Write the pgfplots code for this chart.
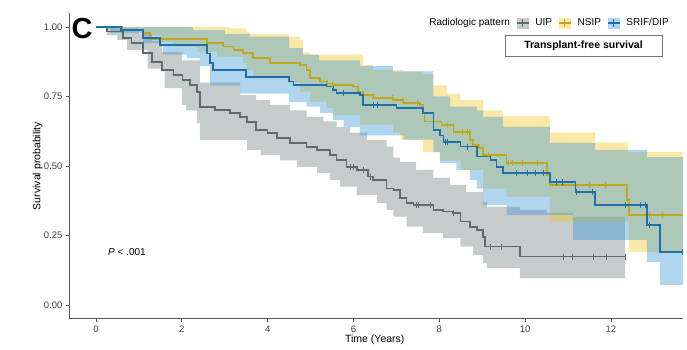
\documentclass[border=0pt]{standalone}
\usepackage{fontspec}
\setmainfont{Liberation Sans}
\usepackage{pgfplots}
\pgfplotsset{compat=1.18}
\usepgfplotslibrary{fillbetween}
\definecolor{uipL}{RGB}{95,106,110}
\definecolor{uipF}{RGB}{112,125,128}
\definecolor{nsipL}{RGB}{192,166,28}
\definecolor{nsipF}{RGB}{245,198,33}
\definecolor{srifL}{RGB}{30,112,166}
\definecolor{srifF}{RGB}{58,150,213}
\definecolor{axgray}{RGB}{85,85,85}
\begin{document}
\begin{tikzpicture}
\begin{axis}[
  at={(0,0)}, anchor=south west,
  scale only axis, width=614pt, height=306pt,
  xmin=-0.63, xmax=13.68, ymin=-0.05, ymax=1.05,
  axis x line*=bottom, axis y line*=left,
  axis line style={-, axgray, line width=1pt},
  tick style={axgray, line width=0.8pt},
  tick align=outside, major tick length=3pt,
  xtick={0,2,4,6,8,10,12},
  ytick={0,0.25,0.5,0.75,1},
  yticklabel style={/pgf/number format/.cd, fixed, fixed zerofill, precision=2},
  /pgf/number format/assume math mode=true,
  ticklabel style={font=\fontsize{9.5}{11}\selectfont, text=black!75},
  xlabel={Time (Years)}, ylabel={Survival probability},
  xlabel style={at={(axis description cs:0.498,-0.069)}, anchor=center, font=\fontsize{10.5}{12}\selectfont},
  ylabel style={at={(axis description cs:-0.051,0.5)}, anchor=center, font=\fontsize{10.5}{12}\selectfont},
  legend columns=-1,
  legend style={draw=none, fill=none, at={(0.977,0.967)}, anchor=east,
    font=\fontsize{10}{12}\selectfont, inner sep=0pt,
    nodes={inner sep=0pt},
    /tikz/every even column/.append style={column sep=6pt},
    /tikz/every odd column/.append style={column sep=6pt},
    /tikz/column 2/.append style={column sep=9pt}},
]
% ---------------- UIP band ----------------
\addplot[const plot, draw=none, name path=uipU, forget plot] coordinates {
(0,1.000) (0.5,0.995) (1.0,0.975) (1.3,0.95) (1.54,0.91) (2.0,0.88) (2.42,0.80)
(3.36,0.755) (3.73,0.737) (4.05,0.72) (4.52,0.70) (4.91,0.677) (5.30,0.66)
(5.61,0.64) (5.92,0.62) (6.31,0.593) (6.77,0.57) (6.93,0.53) (7.09,0.514)
(7.46,0.486) (7.86,0.457) (8.25,0.432) (8.62,0.406) (9.02,0.370) (9.11,0.353)
(9.88,0.342) (10.50,0.331) (11.12,0.317) (12.33,0.317)};
\addplot[const plot, draw=none, name path=uipD, forget plot] coordinates {
(0,1.000) (0.25,0.97) (0.5,0.953) (0.72,0.917) (1.2,0.85) (1.6,0.78) (2.0,0.72)
(2.1,0.70) (2.35,0.655) (2.42,0.594) (3.52,0.558) (3.84,0.54) (4.29,0.52)
(4.68,0.497) (5.15,0.475) (5.45,0.45) (5.69,0.426) (6.08,0.396) (6.55,0.367)
(6.77,0.342) (6.93,0.318) (7.24,0.282) (7.62,0.259) (8.09,0.241) (8.49,0.21)
(8.79,0.18) (9.02,0.151) (9.11,0.133) (9.88,0.097) (12.33,0.097)};
\addplot[fill=uipF, fill opacity=0.4, draw=none, forget plot] fill between[of=uipU and uipD];
% ---------------- NSIP band ----------------
\addplot[const plot, draw=none, name path=nsU, forget plot] coordinates {
(0,1.000) (3.12,0.995) (3.50,0.980) (3.59,0.975) (4.50,0.964) (4.75,0.953)
(4.82,0.908) (5.00,0.900) (6.22,0.863) (6.46,0.845) (7.16,0.840) (7.62,0.830)
(7.86,0.790) (8.18,0.760) (8.49,0.737) (9.02,0.700) (9.49,0.680) (10.58,0.620)
(11.63,0.585) (12.40,0.550) (13.68,0.550)};
\addplot[const plot, draw=none, name path=nsD, forget plot] coordinates {
(0,1.000) (0.60,0.985) (1.03,0.970) (1.49,0.947) (1.79,0.929) (2.35,0.911)
(2.82,0.893) (3.43,0.870) (3.52,0.845) (3.66,0.817) (4.50,0.800) (4.75,0.767)
(4.99,0.731) (5.38,0.709) (5.52,0.683) (6.15,0.647) (6.92,0.620) (7.10,0.594)
(7.62,0.550) (8.00,0.520) (8.50,0.486) (9.02,0.420) (9.57,0.390) (10.58,0.300)
(12.42,0.190) (13.68,0.190)};
\addplot[fill=nsipF, fill opacity=0.4, draw=none, forget plot] fill between[of=nsU and nsD];
% ---------------- SRIF/DIP band ----------------
\addplot[const plot, draw=none, name path=srU, forget plot] coordinates {
(0,1.000) (2.26,0.988) (3.00,0.975) (3.59,0.965) (4.50,0.924)
(4.82,0.900) (5.20,0.880) (6.15,0.860) (6.92,0.840) (7.86,0.750) (8.25,0.713)
(8.88,0.700) (9.02,0.677) (9.49,0.641) (10.58,0.583) (11.63,0.558) (12.84,0.532)
(13.68,0.532)};
\addplot[const plot, draw=none, name path=srD, forget plot] coordinates {
(0,1.000) (0.33,0.978) (1.10,0.942) (1.56,0.900) (2.12,0.888) (2.42,0.860)
(2.66,0.790) (3.36,0.760) (4.50,0.730) (4.91,0.713) (5.22,0.690) (5.52,0.665)
(5.77,0.640) (6.15,0.610) (7.16,0.595) (7.86,0.550) (8.02,0.510) (8.40,0.486)
(8.72,0.450) (8.88,0.420) (9.02,0.360) (9.57,0.324) (11.12,0.234) (12.84,0.155)
(13.14,0.072) (13.68,0.072)};
\addplot[fill=srifF, fill opacity=0.4, draw=none, forget plot] fill between[of=srU and srD];
% ---------------- UIP line ----------------
\addplot[const plot, uipL, line width=1.5pt, forget plot] coordinates {
(0,1.000) (0.25,0.983) (0.63,0.960) (0.83,0.942) (1.10,0.906) (1.31,0.874)
(1.54,0.845) (1.80,0.827) (2.01,0.809) (2.19,0.791) (2.35,0.766) (2.42,0.712)
(2.77,0.701) (3.12,0.690) (3.36,0.676) (3.52,0.658) (3.73,0.630) (4.00,0.619)
(4.22,0.600) (4.52,0.583) (4.91,0.569) (5.15,0.558) (5.45,0.540) (5.61,0.522)
(5.84,0.497) (6.08,0.486) (6.34,0.462) (6.46,0.450) (6.77,0.420) (6.93,0.414)
(7.09,0.385) (7.24,0.367) (7.40,0.360) (7.86,0.342) (8.09,0.336) (8.32,0.331)
(8.49,0.300) (8.72,0.280) (8.88,0.270) (9.02,0.245) (9.07,0.210) (9.88,0.174)
(12.33,0.174)};
\addplot[only marks, mark=|, mark size=3pt, uipL, mark options={line width=0.8pt}, forget plot] coordinates {
(5.92,0.497) (6.00,0.497) (6.22,0.486) (6.40,0.462) (7.47,0.360) (7.52,0.360)
(7.80,0.360) (8.32,0.331) (9.18,0.210) (9.45,0.210) (10.9,0.174) (11.1,0.174)
(11.6,0.174) (11.9,0.174) (12.33,0.174)};
% ---------------- NSIP line ----------------
\addplot[const plot, nsipL, line width=1.5pt, forget plot] coordinates {
(0,1.000) (0.60,0.990) (1.10,0.978) (1.26,0.957) (2.59,0.942) (2.96,0.929)
(3.20,0.917) (3.43,0.906) (3.66,0.888) (4.05,0.870) (4.75,0.863) (4.91,0.845)
(4.99,0.817) (5.22,0.803) (5.38,0.797) (5.52,0.791) (5.99,0.785) (6.11,0.767)
(6.22,0.755) (6.46,0.745) (6.92,0.737) (7.16,0.727) (7.55,0.719) (7.62,0.690)
(7.65,0.660) (8.05,0.647) (8.33,0.623) (8.72,0.594) (8.79,0.576) (8.93,0.565)
(9.02,0.540) (9.57,0.511) (10.51,0.468) (10.58,0.432) (12.37,0.378) (12.42,0.324)
(13.68,0.324)};
\addplot[only marks, mark=|, mark size=3pt, nsipL, mark options={line width=0.8pt}, forget plot] coordinates {
(5.40,0.797) (5.50,0.791) (6.90,0.745) (7.13,0.737) (7.50,0.727) (8.20,0.647)
(8.55,0.623) (8.65,0.623) (9.14,0.540) (9.60,0.511) (9.70,0.511) (9.93,0.511)
(10.28,0.511) (11.50,0.432) (11.87,0.432) (12.90,0.324) (13.20,0.324)};
% ---------------- SRIF/DIP line ----------------
\addplot[const plot, srifL, line width=1.5pt, forget plot] coordinates {
(0,1.000) (0.58,0.989) (1.10,0.960) (1.49,0.935) (2.59,0.905) (2.66,0.870)
(2.73,0.845) (3.50,0.820) (4.50,0.803) (4.60,0.791) (5.38,0.785) (5.52,0.773)
(5.60,0.763) (6.15,0.755) (6.22,0.720) (7.00,0.709) (7.62,0.690) (7.86,0.630)
(8.02,0.610) (8.10,0.587) (8.49,0.570) (8.88,0.534) (9.19,0.522) (9.33,0.497)
(9.49,0.475) (10.58,0.443) (11.17,0.407) (11.63,0.360) (12.84,0.288) (13.14,0.190)
(13.68,0.190)};
\addplot[only marks, mark=|, mark size=3pt, srifL, mark options={line width=0.8pt}, forget plot] coordinates {
(5.76,0.763) (6.46,0.720) (6.55,0.720) (8.15,0.587) (8.20,0.587) (8.65,0.570)
(9.80,0.475) (10.05,0.475) (10.23,0.475) (10.42,0.475) (10.74,0.443) (10.88,0.443)
(11.20,0.407) (11.56,0.407) (12.33,0.360) (12.68,0.360) (12.80,0.360) (12.90,0.288)
(13.66,0.190)};
% ---------------- legend ----------------
\addlegendimage{empty legend}
\addlegendentry{Radiologic pattern}
\addlegendimage{legend image code/.code={
  \path[fill=uipF, fill opacity=0.4, draw=none] (0pt,-5.5pt) rectangle (12pt,5.5pt);
  \path[draw=uipL, line width=1.5pt] (0pt,0pt) -- (12pt,0pt);
  \path[draw=uipL, line width=0.8pt] (6pt,-4pt) -- (6pt,4pt);}}
\addlegendentry{UIP}
\addlegendimage{legend image code/.code={
  \path[fill=nsipF, fill opacity=0.4, draw=none] (0pt,-5.5pt) rectangle (12pt,5.5pt);
  \path[draw=nsipL, line width=1.5pt] (0pt,0pt) -- (12pt,0pt);
  \path[draw=nsipL, line width=0.8pt] (6pt,-4pt) -- (6pt,4pt);}}
\addlegendentry{NSIP}
\addlegendimage{legend image code/.code={
  \path[fill=srifF, fill opacity=0.4, draw=none] (0pt,-5.5pt) rectangle (12pt,5.5pt);
  \path[draw=srifL, line width=1.5pt] (0pt,0pt) -- (12pt,0pt);
  \path[draw=srifL, line width=0.8pt] (6pt,-4pt) -- (6pt,4pt);}}
\addlegendentry{SRIF/DIP}
% ---------------- annotations ----------------
\node[draw=black!55, line width=0.6pt, fill=white, inner xsep=9pt, minimum width=157pt, minimum height=21pt,
  font=\fontsize{10.5}{12}\selectfont\bfseries] at (axis description cs:0.838,0.892) {Transplant-free survival};
\node[anchor=center, font=\fontsize{29}{30}\selectfont\bfseries, inner sep=0pt] at (axis description cs:0.0215,0.948) {C};
\node[anchor=west, font=\fontsize{10}{12}\selectfont, inner sep=0pt] at (axis cs:0.28,0.19) {\textit{P} < .001};
\end{axis}
\pgfresetboundingbox
\path[use as bounding box] (-69pt,-31pt) rectangle (618pt,319pt);
\end{tikzpicture}
\end{document}
